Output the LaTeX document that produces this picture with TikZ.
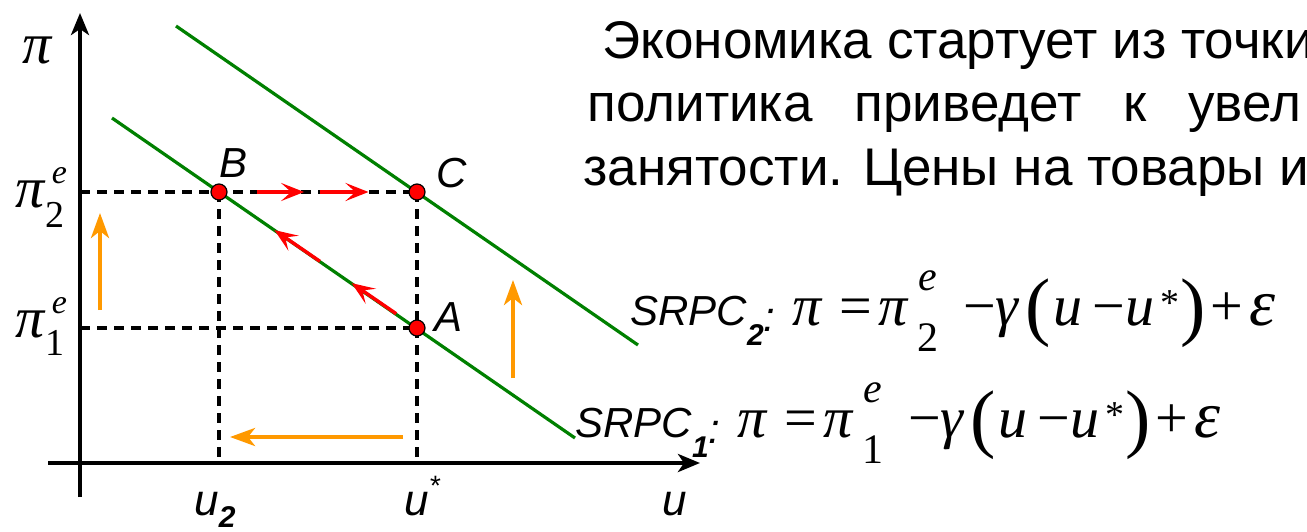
\documentclass[tikz,border=0pt]{standalone}
\usepackage{fontspec}
\setmainfont{Liberation Sans}
\newfontfamily\tnr{Liberation Serif}
\usetikzlibrary{arrows.meta,calc}
\definecolor{curvegreen}{RGB}{0,128,0}
\definecolor{dotred}{RGB}{255,0,0}
\definecolor{moveorange}{RGB}{255,153,0}

% italic greek letters of the formulas
\newcommand{\gpi}{\textit{π}}
% one glyph of the formula in a box of fixed width
\newcommand{\fcell}[2]{\makebox[#1][l]{#2}}
% stacked e and index beside pi on the axis
\newcommand{\axstk}[3]{%
  \rlap{\hspace{3pt}\raisebox{12pt}{\fontsize{17}{17}\selectfont\itshape #1}}%
  \raisebox{-#3}{\fontsize{19}{19}\selectfont #2}}
% stacked e and index inside the SRPC formula
\newcommand{\eqstk}[1]{%
  \rlap{\hspace{0.5pt}\raisebox{17.5pt}{\fontsize{21}{21}\selectfont\itshape e}}%
  \raisebox{-13pt}{\fontsize{21}{21}\selectfont #1}}
\newcommand{\srpcline}[1]{%
  \fcell{81pt}{\fontsize{21}{25}\selectfont\itshape SRPC\raisebox{-10pt}{\fontsize{15}{15}\selectfont\bfseries #1}\raisebox{-3pt}{:}}%
  {\tnr\fontsize{29}{34}\selectfont
   \fcell{23.5pt}{\gpi}\fcell{19.5pt}{=}\fcell{19.5pt}{\gpi}\fcell{23pt}{\eqstk{#1}}%
   \fcell{16pt}{−}\fcell{15pt}{\textit{γ}}\fcell{14pt}{\raisebox{-3pt}{\fontsize{38}{38}\selectfont(}}%
   \fcell{19.5pt}{\textit{u}}\fcell{16.5pt}{−}\fcell{17.5pt}{\textit{u}}%
   \fcell{10pt}{\raisebox{5pt}{\fontsize{19}{19}\selectfont *}}%
   \fcell{15pt}{\raisebox{-3pt}{\fontsize{38}{38}\selectfont)}}\fcell{19.5pt}{+}{\fontsize{33}{36}\selectfont\textit{ε}}}}

\begin{document}
\begin{tikzpicture}[x=0.5pt,y=-0.5pt,
    axisline/.style={line width=2pt,-{Stealth[length=11pt,width=9pt,inset=3pt]}},
    guide/.style={line width=1.6pt,dash pattern=on 5pt off 3.5pt},
    srpc/.style={curvegreen,line width=1.6pt},
    eqpt/.style={circle,fill=dotred,draw=black,line width=0.6pt,minimum size=8pt,inner sep=0pt},
    redmove/.style={dotred,line width=1.7pt,-{Stealth[length=11.5pt,width=9pt,inset=5pt]}},
    shiftarr/.style={moveorange,line width=2pt,-{Stealth[length=12.5pt,width=9pt,inset=3.5pt]}},
    headtxt/.style={font=\fontsize{26.5}{32}\selectfont,inner sep=0pt,anchor=base west},
    ptlbl/.style={font=\fontsize{21}{24}\selectfont\itshape,inner sep=0pt,anchor=base west},
    ulbl/.style={font=\fontsize{22}{26}\selectfont\itshape,inner sep=0pt,anchor=base west},
    pilbl/.style={font=\tnr\fontsize{29}{34}\selectfont,inner sep=0pt,anchor=base west}]
  \useasboundingbox (0,0) rectangle (1307,531);

  % axes and guide points
  \coordinate (yb) at (80,497);
  \coordinate (yt) at (80,13);
  \coordinate (xl) at (48,463);
  \coordinate (xr) at (700,463);
  \coordinate (p2) at (80,192);
  \coordinate (p1) at (80,328);
  \coordinate (u2) at (219,463);
  \coordinate (us) at (417,463);
  \coordinate (pB) at (219,192);
  \coordinate (pC) at (417,192);
  \coordinate (pA) at (417,328);
  \coordinate (s1a) at (112,118);
  \coordinate (s1b) at (575,438);
  \coordinate (s2a) at (176,26);
  \coordinate (s2b) at (638,345);

  % dashed guides
  \draw[guide] (p2) -- (pC);
  \draw[guide] (p1) -- (pA);
  \draw[guide] (pB) -- (u2);
  \draw[guide] (pC) -- (us);

  % SRPC lines
  \draw[srpc] (s1a) -- (s1b);
  \draw[srpc] (s2a) -- (s2b);

  \draw[axisline] (yb) -- (yt);
  \draw[axisline] (xl) -- (xr);

  % orange shifts
  \draw[shiftarr] ($(p1)+(20,-18)$) -- ($(p2)+(20,21)$);
  \draw[shiftarr] ($(pA)+(96,50)$) -- ($(pA)+(96,-48)$);
  \draw[shiftarr] ($(us)+(-14,-26)$) -- ($(u2)+(11,-26)$);

  % red moves
  \draw[redmove] ($(pB)!0.19!(pC)$) -- ($(pB)!0.43!(pC)$);
  \draw[redmove] ($(pB)!0.51!(pC)$) -- ($(pB)!0.755!(pC)$);
  \draw[redmove,yshift=1pt] ($(pA)!0.105!(pB)$) -- ($(pA)!0.33!(pB)$);
  \draw[redmove,yshift=1pt] ($(pA)!0.49!(pB)$) -- ($(pA)!0.72!(pB)$);

  \node[eqpt] (B) at (pB) {};
  \node[eqpt] (C) at (pC) {};
  \node[eqpt] (A) at (pA) {};

  \node[ptlbl] (lB) at ($(B)+(0,-15)$) {B};
  \node[ptlbl] (lC) at ($(C)+(19,-5)$) {C};
  \node[ptlbl] (lA) at ($(A)+(17,3)$) {A};

  \node[ulbl] (lu2) at ($(u2)+(-25,52)$) {u\raisebox{-6pt}{\fontsize{15}{15}\selectfont\bfseries 2}};
  \node[ulbl] (lus) at ($(us)+(-13,52)$) {u\raisebox{10pt}{\fontsize{14}{14}\selectfont *}};
  \node[ulbl] (lu) at ($(xr)+(-38,52)$) {u};

  \node[pilbl] (lpi) at ($(yt)+(-58,50)$) {\gpi};
  \node[pilbl] (lp2) at ($(p2)+(-65,15)$) {\gpi\axstk{e}{2}{10pt}};
  \node[pilbl] (lp1) at ($(p1)+(-65,9)$) {\gpi\axstk{e}{1}{9pt}};

  % formulas
  \node[inner sep=0pt,anchor=base west] (eq2) at (630,325) {\srpcline{2}};
  \node[inner sep=0pt,anchor=base west] (eq1) at (575,437) {\srpcline{1}};

  % heading text, cut at the right edge
  \begin{scope}
    \clip (0,0) rectangle (1307,531);
    \node[headtxt] (t1) at (602,58) {Экономика стартует из точки};
    \node[headtxt] (t2) at (587,121.5) {политика\hspace{21pt}приведет\hspace{21pt}к\hspace{21pt}увел};
    \node[headtxt] (t3) at (583,185) {занятости. Цены на товары и};
  \end{scope}
\end{tikzpicture}
\end{document}
